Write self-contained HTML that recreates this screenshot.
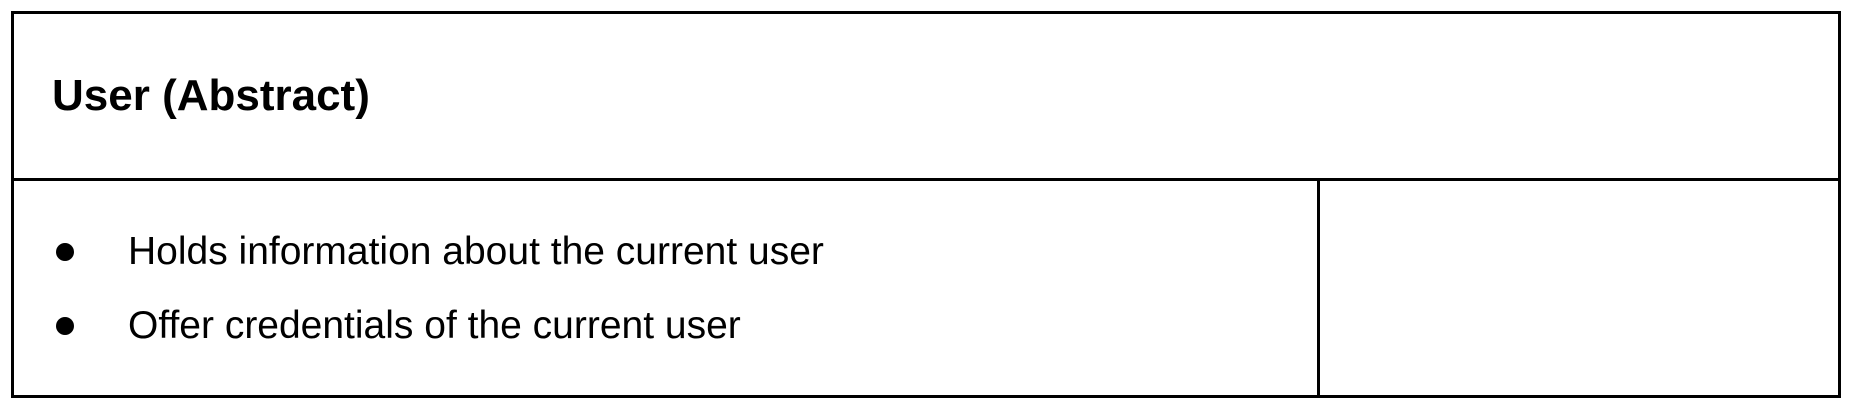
<!DOCTYPE html>
<html><head><meta charset="utf-8"><style>
html,body{margin:0;padding:0;background:#fff;}
body{width:1852px;height:408px;position:relative;overflow:hidden;font-family:"Liberation Sans",Arial,sans-serif;color:#000;}
.l{position:absolute;background:#000;}
.t{position:absolute;white-space:nowrap;line-height:1;}
.b{position:absolute;width:18px;height:18px;border-radius:50%;background:#000;}
</style></head><body>
<div class="l" style="left:11px;top:11px;width:1830px;height:3px"></div>
<div class="l" style="left:11px;top:178px;width:1830px;height:3px"></div>
<div class="l" style="left:11px;top:395px;width:1830px;height:3px"></div>
<div class="l" style="left:11px;top:11px;width:3px;height:387px"></div>
<div class="l" style="left:1838px;top:11px;width:3px;height:387px"></div>
<div class="l" style="left:1317px;top:178px;width:3px;height:220px"></div>
<div class="t" style="left:52px;top:74px;font-size:44px;font-weight:bold;">User (Abstract)</div>
<div class="b" style="left:56px;top:243px"></div>
<div class="t" style="left:128px;top:232px;font-size:39px;">Holds information about the current user</div>
<div class="b" style="left:56px;top:317px"></div>
<div class="t" style="left:128px;top:306px;font-size:39px;">Offer credentials of the current user</div>
</body></html>
